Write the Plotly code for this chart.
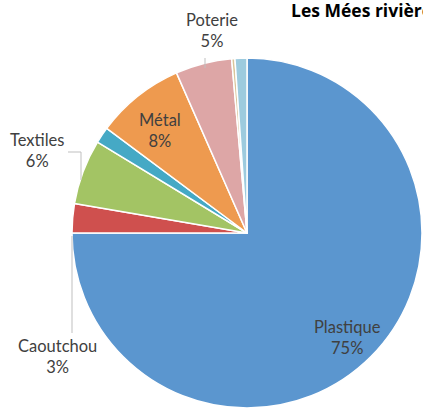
import plotly.graph_objects as go

# Data (clockwise from 12 o'clock)
categories = ["Plastique", "Caoutchou", "Textiles", "Verre", "Métal", "Poterie", "Bois", "Autres"]
values = [75.0, 2.7, 6.0, 1.5, 8.2, 5.2, 0.3, 1.1]
pct_labels = ["75%", "3%", "6%", "", "8%", "5%", "", ""]
colors = ["#5B96CF", "#CF504E", "#A3C464", "#45A9C5", "#EE9A4F", "#DDA6A6", "#D9C59A", "#9DCBDE"]

W, H = 423, 409

fig = go.Figure(go.Pie(
    labels=categories,
    values=values,
    sort=False,
    direction="clockwise",
    rotation=0,
    marker=dict(colors=colors, line=dict(color="white", width=1.5)),
    textinfo="none",
    hoverinfo="label+percent",
    showlegend=False,
    domain=dict(x=[72 / W, 422 / W], y=[1 / H, 351 / H]),
))

# Label placement (pixel positions of label centres)
label_pos = {
    "Plastique": (347, 337),
    "Métal": (160, 130),
    "Poterie": (212, 30),
    "Textiles": (37, 150),
    "Caoutchou": (57, 356),
}
font = dict(family="Lato, Open Sans, sans-serif", size=16.5, color="#404040")
for name, (px, py) in label_pos.items():
    i = categories.index(name)
    fig.add_annotation(
        x=px / W, y=1 - py / H, xref="paper", yref="paper",
        text=f"{name}<br>{pct_labels[i]}", showarrow=False,
        font=font, align="center", xanchor="center", yanchor="middle",
    )

# Leader lines (pixel polylines)
leaders = [
    [(68, 152), (81, 152), (81, 180)],
    [(72, 236), (72, 333)],
    [(205, 58), (205, 68)],
]
for pts in leaders:
    path = "M " + " L ".join(f"{x / W},{1 - y / H}" for x, y in pts)
    fig.add_shape(type="path", path=path, xref="paper", yref="paper",
                  line=dict(color="#BFBFBF", width=1))

# Title (cut off at right edge, as in the reference)
fig.add_annotation(
    x=289 / W, y=1 - 10 / H, xref="paper", yref="paper",
    text="<b>Les Mées rivière</b>", showarrow=False,
    font=dict(family="Open Sans, sans-serif", size=17.5, color="#000000"),
    xanchor="left", yanchor="middle",
)

fig.update_layout(
    width=W, height=H,
    margin=dict(l=0, r=0, t=0, b=0),
    paper_bgcolor="white",
    plot_bgcolor="white",
)

fig.write_html("out.html", config={"displayModeBar": False},
               post_script="document.body.style.margin='0px';")
